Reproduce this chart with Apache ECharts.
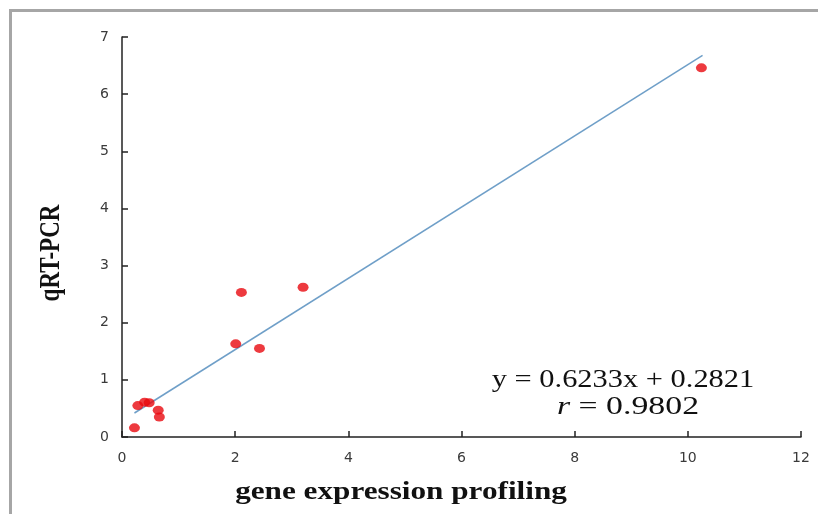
<!DOCTYPE html>
<html><head><meta charset="utf-8">
<script src="https://cdn.jsdelivr.net/npm/echarts@6/dist/echarts.min.js"></script>
<style>html,body{margin:0;padding:0;background:#fff}#c{width:818px;height:514px}</style>
</head><body><div id="c"></div>
<script>
var xValues = [10.24, 3.20, 2.11, 2.01, 2.43, 0.28, 0.40, 0.48, 0.64, 0.66, 0.22];
var yValues = [6.46, 2.62, 2.53, 1.63, 1.55, 0.55, 0.61, 0.60, 0.47, 0.35, 0.16];
var trendX = [0.22, 10.26];
var trendY = [0.42, 6.68];
var xTicks = [0, 2, 4, 6, 8, 10, 12];
var yTicks = [0, 1, 2, 3, 4, 5, 6, 7];
var xTitle = 'gene expression profiling';
var yTitle = 'qRT-PCR';
var equationText = 'y = 0.6233x + 0.2821';
var rText = '0.9802';

var points = xValues.map(function (x, i) { return [x, yValues[i]]; });
var trend = trendX.map(function (x, i) { return [x, trendY[i]]; });

var chart = echarts.init(document.getElementById('c'), null, {renderer: 'canvas'});
var tickFont = {color: '#3a3a3a', fontFamily: 'DejaVu Sans', fontSize: 14};
var serif = 'Liberation Serif';
chart.setOption({
  animation: false,
  grid: {left: 122, right: 17, top: 37, bottom: 77},
  xAxis: {
    type: 'value', min: xTicks[0], max: xTicks[xTicks.length - 1], interval: 2,
    splitLine: {show: false},
    axisLine: {lineStyle: {color: '#222', width: 1.5}},
    axisTick: {inside: true, length: 6, lineStyle: {color: '#222', width: 1.5}},
    axisLabel: Object.assign({margin: 14}, tickFont)
  },
  yAxis: {
    type: 'value', min: yTicks[0], max: yTicks[yTicks.length - 1], interval: 1,
    splitLine: {show: false},
    axisLine: {lineStyle: {color: '#222', width: 1.5}},
    axisTick: {inside: true, length: 6, lineStyle: {color: '#222', width: 1.5}},
    axisLabel: Object.assign({margin: 13}, tickFont)
  },
  series: [
    {type: 'line', data: trend, symbol: 'none', lineStyle: {color: '#6f9fc8', width: 1.5}, z: 2},
    {type: 'scatter', data: points, symbol: 'circle', symbolSize: [11, 9],
     itemStyle: {color: '#e8090f'}, z: 3}
  ],
  graphic: [
    {type: 'rect', shape: {x: 9, y: 9, width: 820, height: 3}, style: {fill: '#a6a6a6'}},
    {type: 'rect', shape: {x: 9, y: 9, width: 3, height: 520}, style: {fill: '#a6a6a6'}},
    {type: 'text', x: 401, y: 492, scaleX: 1.2,
     style: {text: xTitle, fontFamily: serif, fontWeight: 'bold', fontSize: 26, fill: '#111',
             align: 'center', verticalAlign: 'middle'}},
    {type: 'text', x: 51, y: 253, rotation: Math.PI / 2, scaleY: 1.28,
     style: {text: yTitle, fontFamily: serif, fontWeight: 'bold', fontSize: 23, fill: '#111',
             align: 'center', verticalAlign: 'middle'}},
    {type: 'text', x: 623, y: 367, scaleX: 1.17,
     style: {text: equationText, fontFamily: serif, fontSize: 26, fill: '#111', align: 'center', verticalAlign: 'top'}},
    {type: 'text', x: 628, y: 394, scaleX: 1.3,
     style: {
      text: '{i|r} = ' + rText,
      fontFamily: serif, fontSize: 26, fill: '#111', align: 'center', verticalAlign: 'top',
      rich: {i: {fontFamily: serif, fontStyle: 'italic', fontSize: 26, fill: '#111'}}
    }}
  ]
});
</script></body></html>
